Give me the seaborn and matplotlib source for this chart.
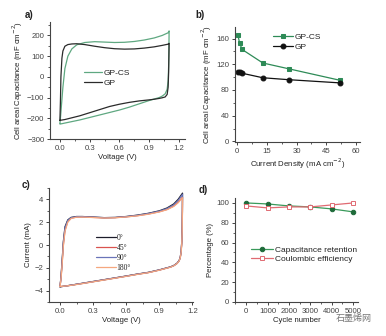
import numpy as np
import pandas as pd
import matplotlib
matplotlib.use("Agg")
import matplotlib.pyplot as plt
from matplotlib.ticker import MultipleLocator, AutoMinorLocator
import seaborn as sns

# ---------------- data ----------------
# Panel a: CV loops (forward sweep then reverse sweep)
a_v_fwd = [0.00, 0.005, 0.01, 0.02, 0.03, 0.05, 0.08, 0.12, 0.17, 0.25, 0.35, 0.45, 0.55, 0.65, 0.75, 0.85, 0.95, 1.03, 1.09, 1.10]
a_v_rev = [1.10, 1.098, 1.095, 1.09, 1.08, 1.06, 1.03, 1.00, 0.95, 0.90, 0.80, 0.70, 0.60, 0.50, 0.40, 0.30, 0.20, 0.10, 0.05, 0.00]
a_gp_fwd = [-210, -120, 0, 90, 125, 148, 156, 159, 160, 156, 148, 141, 136, 134, 135, 139, 145, 152, 158, 162]
a_gp_rev = [162, 100, 20, -50, -85, -97, -101, -104, -108, -111, -116, -123, -132, -143, -158, -173, -188, -200, -206, -210]
a_cs_fwd = [-225, -200, -170, -110, -50, 40, 100, 135, 155, 166, 170, 168, 166, 167, 171, 178, 188, 200, 213, 222]
a_cs_rev = [222, 140, 50, -20, -60, -82, -93, -100, -107, -114, -130, -146, -160, -172, -184, -196, -208, -218, -223, -228]

# Panel b: rate capability
b_density = [0.5, 1.3, 2.6, 13, 26, 52]
b_gpcs = [165, 153, 143, 122, 113, 95]
b_gp = [108, 108, 106, 99, 96, 91]

# Panel c: CV at bending angles
c_v_fwd = [0.00, 0.01, 0.02, 0.03, 0.045, 0.07, 0.10, 0.15, 0.20, 0.30, 0.40, 0.50, 0.60, 0.70, 0.80, 0.90, 0.97, 1.03, 1.07, 1.11]
c_v_rev = [1.11, 1.109, 1.107, 1.103, 1.098, 1.09, 1.08, 1.06, 1.03, 1.00, 0.90, 0.80, 0.70, 0.60, 0.50, 0.40, 0.30, 0.20, 0.10, 0.05, 0.00]
c_0_fwd = [-3.67, -2.6, -1.2, 0.3, 1.6, 2.2, 2.42, 2.5, 2.5, 2.45, 2.4, 2.42, 2.5, 2.62, 2.78, 3.0, 3.25, 3.6, 4.0, 4.55]
c_0_rev = [4.55, 3.0, 1.5, 0.3, -0.5, -1.05, -1.35, -1.6, -1.8, -1.92, -2.18, -2.4, -2.55, -2.72, -2.88, -3.04, -3.2, -3.36, -3.52, -3.6, -3.67]
c_45_fwd = [-3.65, -2.8, -1.5, 0.0, 1.3, 2.05, 2.35, 2.45, 2.46, 2.42, 2.38, 2.4, 2.47, 2.57, 2.72, 2.92, 3.12, 3.42, 3.75, 4.2]
c_45_rev = [4.2, 2.8, 1.3, 0.2, -0.55, -1.08, -1.38, -1.62, -1.82, -1.94, -2.2, -2.42, -2.57, -2.74, -2.9, -3.06, -3.22, -3.38, -3.53, -3.6, -3.65]
c_90_fwd = [-3.66, -2.7, -1.3, 0.2, 1.5, 2.15, 2.4, 2.48, 2.49, 2.44, 2.4, 2.41, 2.49, 2.6, 2.76, 2.97, 3.2, 3.52, 3.9, 4.45]
c_90_rev = [4.45, 2.9, 1.4, 0.25, -0.52, -1.06, -1.36, -1.61, -1.81, -1.93, -2.19, -2.41, -2.56, -2.73, -2.89, -3.05, -3.21, -3.37, -3.52, -3.6, -3.66]
c_180_fwd = [-3.64, -2.85, -1.6, -0.1, 1.2, 2.0, 2.33, 2.44, 2.45, 2.41, 2.37, 2.39, 2.46, 2.56, 2.7, 2.9, 3.1, 3.38, 3.7, 4.15]
c_180_rev = [4.15, 2.7, 1.2, 0.1, -0.6, -1.1, -1.4, -1.63, -1.83, -1.95, -2.21, -2.43, -2.58, -2.75, -2.91, -3.07, -3.23, -3.39, -3.54, -3.6, -3.64]

# Panel d: cycling
d_cycles = [0, 1000, 2000, 3000, 4000, 5000]
d_retention = [100, 99, 97, 96, 94, 91]
d_coulombic = [97, 95, 96, 96, 98, 100]

# ---------------- style ----------------
sns.set_theme(style="ticks")
plt.rcParams['font.family'] = ['Liberation Sans', 'DejaVu Sans']
plt.rcParams.update({
    'axes.linewidth': 0.8,
    'xtick.major.size': 2.5, 'ytick.major.size': 2.5,
    'xtick.minor.size': 1.3, 'ytick.minor.size': 1.3,
    'xtick.major.width': 0.7, 'ytick.major.width': 0.7,
    'xtick.minor.width': 0.6, 'ytick.minor.width': 0.6,
    'xtick.labelsize': 5.6, 'ytick.labelsize': 5.6,
    'xtick.major.pad': 1.5, 'ytick.major.pad': 1.5,
    'axes.labelsize': 5.6, 'axes.labelpad': 1.5,
    'axes.edgecolor': '#444444',
    'xtick.color': '#444444', 'ytick.color': '#444444',
    'text.color': '#222222', 'axes.labelcolor': '#222222',
})

W, H = 386, 336
fig = plt.figure(figsize=(W / 100, H / 100), dpi=100)


def box(l, t, r, b):
    return [l / W, 1 - b / H, (r - l) / W, (b - t) / H]


def style(ax):
    sns.despine(ax=ax)
    ax.xaxis.set_minor_locator(AutoMinorLocator(2))
    ax.yaxis.set_minor_locator(AutoMinorLocator(2))


# ---------------- panel a ----------------
axa = fig.add_axes(box(50, 22, 185, 139))
sns.lineplot(x=a_v_fwd + a_v_rev, y=a_cs_fwd + a_cs_rev, sort=False, estimator=None,
             color='#5fa881', lw=0.9, ax=axa, label='GP-CS')
sns.lineplot(x=a_v_fwd + a_v_rev, y=a_gp_fwd + a_gp_rev, sort=False, estimator=None,
             color='#2b2b2b', lw=0.9, ax=axa, label='GP')
axa.set_xlim(-0.1, 1.26)
axa.set_ylim(-300, 265)
axa.xaxis.set_major_locator(MultipleLocator(0.3))
axa.yaxis.set_major_locator(MultipleLocator(100))
axa.xaxis.set_major_formatter(matplotlib.ticker.FormatStrFormatter('%.1f'))
style(axa)
axa.set_xlabel('Voltage (V)')
axa.set_ylabel('Cell areal Capacitance (mF cm$^{-2}$)')
axa.legend(loc='center left', bbox_to_anchor=(0.22, 0.52), frameon=False, fontsize=6,
           handlelength=2.2, handletextpad=0.2, labelspacing=0.2, borderpad=0)
fig.text(25 / W, 1 - 15 / H, 'a)', fontsize=7, fontweight='bold', va='center')

# ---------------- panel b ----------------
axb = fig.add_axes(box(235, 27, 360, 142))
sns.lineplot(x=b_density, y=b_gpcs, marker='s', markersize=3.2, color='#2e8b57',
             markeredgecolor='#2e8b57', lw=0.9, ax=axb, label='GP-CS')
sns.lineplot(x=b_density, y=b_gp, marker='o', markersize=3.5, color='#111111',
             markeredgecolor='#111111', lw=0.9, ax=axb, label='GP')
axb.set_xlim(-1, 62)
axb.set_ylim(-1, 178)
axb.xaxis.set_major_locator(MultipleLocator(15))
axb.yaxis.set_major_locator(MultipleLocator(40))
style(axb)
axb.set_xlabel('Current Density (mA cm$^{-2}$)')
axb.set_ylabel('Cell areal Capacitance (mF cm$^{-2}$)')
axb.legend(loc='upper left', bbox_to_anchor=(0.27, 0.98), frameon=False, fontsize=6,
           handlelength=2.4, handletextpad=0.2, labelspacing=0.2, borderpad=0)
fig.text(195 / W, 1 - 15 / H, 'b)', fontsize=7, fontweight='bold', va='center')

# ---------------- panel c ----------------
axc = fig.add_axes(box(49, 188, 193, 302))
c_curves = [('0°', c_0_fwd, c_0_rev, '#1c1c2a'),
            ('45°', c_45_fwd, c_45_rev, '#d9534f'),
            ('90°', c_90_fwd, c_90_rev, '#6a74b8'),
            ('180°', c_180_fwd, c_180_rev, '#f5a77f')]
for lab, fw, rv, col in c_curves:
    sns.lineplot(x=c_v_fwd + c_v_rev, y=fw + rv, sort=False, estimator=None,
                 color=col, lw=0.9, ax=axc, label=lab)
axc.set_xlim(-0.1, 1.205)
axc.set_ylim(-5, 5)
axc.xaxis.set_major_locator(MultipleLocator(0.3))
axc.yaxis.set_major_locator(MultipleLocator(2))
axc.xaxis.set_major_formatter(matplotlib.ticker.FormatStrFormatter('%.1f'))
style(axc)
axc.set_xlabel('Voltage (V)')
axc.set_ylabel('Current (mA)')
axc.legend(loc='upper left', bbox_to_anchor=(0.30, 0.63), frameon=False,
           prop={'family': 'Liberation Serif', 'size': 5.5},
           handlelength=2.6, handletextpad=0.1, labelspacing=0.25, borderpad=0)
fig.text(22 / W, 1 - 185 / H, 'c)', fontsize=7, fontweight='bold', va='center')

# ---------------- panel d ----------------
axd = fig.add_axes(box(235, 198, 358, 302))
sns.lineplot(x=d_cycles, y=d_retention, marker='o', markersize=3.2, color='#3a9a5b',
             markerfacecolor='#1f6b3a', markeredgecolor='#1f6b3a', lw=0.9, ax=axd,
             label='Capacitance retention')
sns.lineplot(x=d_cycles, y=d_coulombic, marker='s', markersize=3.2, color='#e06a72',
             markerfacecolor='white', markeredgecolor='#e06a72', markeredgewidth=0.7,
             lw=0.9, ax=axd, label='Coulombic efficiency')
axd.set_xlim(-520, 5230)
axd.set_ylim(0, 105)
axd.xaxis.set_major_locator(MultipleLocator(1000))
axd.yaxis.set_major_locator(MultipleLocator(20))
style(axd)
axd.set_xlabel('Cycle number')
axd.set_ylabel('Percentage (%)')
axd.legend(loc='upper left', bbox_to_anchor=(0.10, 0.58), frameon=False, fontsize=6,
           handlelength=2.6, handletextpad=0.2, labelspacing=0.2, borderpad=0)
fig.text(199 / W, 1 - 190 / H, 'd)', fontsize=7, fontweight='bold', va='center')

# watermark
fig.text(336 / W, 1 - 318 / H, '石墨烯网', fontsize=6.5, color='#777777', va='center',
         family=['Noto Sans CJK SC', 'DejaVu Sans'],
         bbox=dict(facecolor='white', edgecolor='none', pad=0.5))

fig.savefig('out.png', dpi=100)
